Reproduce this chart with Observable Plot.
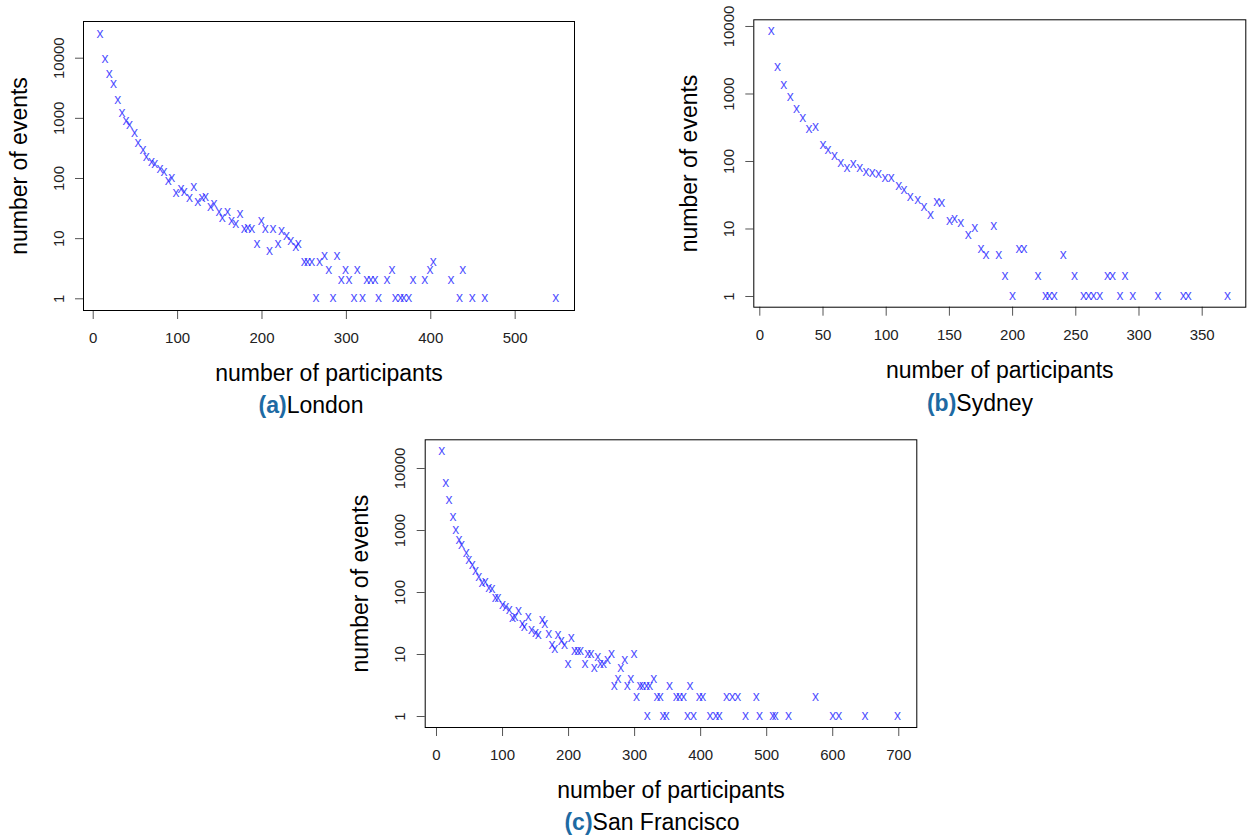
<!DOCTYPE html>
<html>
<head>
<meta charset="utf-8">
<script src="https://cdn.jsdelivr.net/npm/d3@7"></script>
<script src="https://cdn.jsdelivr.net/npm/@observablehq/plot@0.6"></script>
<style>
  html, body { margin: 0; padding: 0; background: #fff; }
  #page { position: relative; width: 1247px; height: 839px; overflow: hidden; font-family: "Liberation Sans", Arial, sans-serif; }
  .panel { position: absolute; }
  .cap { position: absolute; font-size: 23px; line-height: 23px; white-space: nowrap; color: #000; transform: translateX(-50%); }
  .cap b { color: #1d6aa3; font-weight: bold; }
</style>
</head>
<body>
<div id="page"></div>
<script>
// ---- London ----
const londonX = [8,14,19,24,29,34,39,43,49,53,59,63,69,73,79,84,89,93,98,104,108,114,119,124,129,133,139,143,149,153,159,164,169,174,179,183,188,194,199,204,209,213,219,223,229,234,240,243,
  250,254,259,268,274,289,279,299,313,294,303,324,329,334,348,354,379,393,399,403,424,438,
  264,284,309,319,338,358,364,368,374,434,449,464,548];
const londonY = [25000,9400,5350,3600,2000,1220,870,760,550,385,297,226,187,171,139,124,90,101,56,66,58,47,71,40,46,49,33,37,27,22,27,19,17,25,14,15,14,8,19,14,6,14,8,13,11,9,7,8,
  4,4,4,4,5,5,3,3,3,2,2,2,2,2,2,3,2,2,3,4,2,3,
  1,1,1,1,1,1,1,1,1,1,1,1,1];
// ---- Sydney ----
const sydneyX = [9,14,19,24,29,34,39,44,50,54,59,64,69,74,79,84,89,94,99,104,110,114,119,125,130,135,140,144,150,154,159,165,170,185,
  175,179,189,194,200,205,209,220,226,229,233,240,249,256,260,264,269,275,279,289,285,295,315,335,339,370];
const sydneyY = [8430,2500,1340,900,595,438,300,324,174,144,119,92,80,89,80,68,67,64,55,55,42,37,29,26,21,16,25,24,13,14,12,8,10,11,
  5,4,4,2,1,5,5,2,1,1,1,4,2,1,1,1,1,2,2,2,1,1,1,1,1,1];
// ---- San Francisco ----
const sfX = [8,14,19,25,29,34,38,45,49,54,59,64,69,74,79,84,89,93,100,105,110,115,119,124,130,133,139,144,150,154,160,164,170,175,179,184,189,194,199,204,209,214,218,225,229,234,239,244,248,253,259,265,
  269,275,279,285,289,294,299,303,308,312,318,323,329,353,384,
  334,339,363,368,374,398,403,439,448,456,484,574,
  319,343,348,380,389,414,423,428,468,489,509,513,533,600,609,649,698];
const sfY = [19000,5670,3100,1600,1000,700,573,420,331,272,217,177,138,147,117,110,79,81,62,57,51,38,39,49,30,27,40,24,22,20,35,30,21,14,12,20,16,14,7,18,11,11,11,7,10,10,6,9,7,7,8,10,
  3,4,6,8,3,4,10,2,3,3,3,3,4,3,3,
  2,2,2,2,2,2,2,2,2,2,2,2,
  1,1,1,1,1,1,1,1,1,1,1,1,1,1,1,1,1];

const yTicks = [1, 10, 100, 1000, 10000];
const xTicksLondon = [0, 100, 200, 300, 400, 500];
const xTicksSydney = [0, 50, 100, 150, 200, 250, 300, 350];
const xTicksSF = [0, 100, 200, 300, 400, 500, 600, 700];

const xTitle = "number of participants";
const yTitle = "number of events";

const panels = [
  {xs: londonX, ys: londonY, xTicks: xTicksLondon, xDomain: [-11.5, 570.3], yDomain: [0.639, 40740],
   left: 0, top: 0, width: 620, height: 400, mL: 83, mT: 21, mR: 46, mB: 90,
   capTag: "(a)", capName: "London", capX: 311, capTop: 394},
  {xs: sydneyX, ys: sydneyY, xTicks: xTicksSydney, xDomain: [-4.75, 384.5], yDomain: [0.694, 12560],
   left: 660, top: 0, width: 587, height: 400, mL: 93.3, mT: 19.3, mR: 1.7, mB: 93.3,
   capTag: "(b)", capName: "Sydney", capX: 980, capTop: 391.5},
  {xs: sfX, ys: sfY, xTicks: xTicksSF, xDomain: [-17.1, 727.3], yDomain: [0.665, 29040],
   left: 330, top: 420, width: 620, height: 400, mL: 94.7, mT: 19.3, mR: 33.7, mB: 93,
   capTag: "(c)", capName: "San Francisco", capX: 652, capTop: 811}
];

const page = document.getElementById("page");
const font = '"Liberation Sans", Arial, sans-serif';

for (const p of panels) {
  const data = p.xs.map((x, i) => ({x, y: p.ys[i]}));
  const chart = Plot.plot({
    width: p.width,
    height: p.height,
    marginLeft: p.mL, marginTop: p.mT, marginRight: p.mR, marginBottom: p.mB,
    style: {fontFamily: font, background: "transparent", overflow: "visible"},
    x: {domain: p.xDomain, label: null},
    y: {type: "log", domain: p.yDomain, label: null},
    marks: [
      Plot.axisX({ticks: p.xTicks, tickSize: 9, tickPadding: 13, fontSize: 15, tickFormat: d => String(d),
                  stroke: "#555", fill: "#222", label: null}),
      Plot.axisY({ticks: yTicks, tickSize: 8, tickFormat: () => "", stroke: "#555", label: null}),
      Plot.text(yTicks, {y: d => d, frameAnchor: "left", text: d => String(d), rotate: -90,
                  textAnchor: "middle", lineAnchor: "bottom", dx: -20, fontSize: 15, fill: "#222"}),
      Plot.text([xTitle], {frameAnchor: "bottom", text: d => d, lineAnchor: "bottom", dy: 70.5,
                  fontSize: 23, fill: "#000"}),
      Plot.text([yTitle], {frameAnchor: "left", text: d => d, rotate: -90, textAnchor: "middle",
                  lineAnchor: "bottom", dx: -57, fontSize: 23, fill: "#000"}),
      Plot.text(data, {x: "x", y: "y", text: () => "x", fill: "#1a1aff", fillOpacity: 0.78,
                  fontSize: 14, dy: -1}),
      Plot.frame({stroke: "#000", strokeWidth: 1})
    ]
  });
  const div = document.createElement("div");
  div.className = "panel";
  div.style.left = p.left + "px";
  div.style.top = p.top + "px";
  div.appendChild(chart);
  page.appendChild(div);

  const cap = document.createElement("div");
  cap.className = "cap";
  cap.style.left = p.capX + "px";
  cap.style.top = p.capTop + "px";
  const b = document.createElement("b");
  b.textContent = p.capTag;
  cap.appendChild(b);
  cap.appendChild(document.createTextNode(p.capName));
  page.appendChild(cap);
}
</script>
</body>
</html>
